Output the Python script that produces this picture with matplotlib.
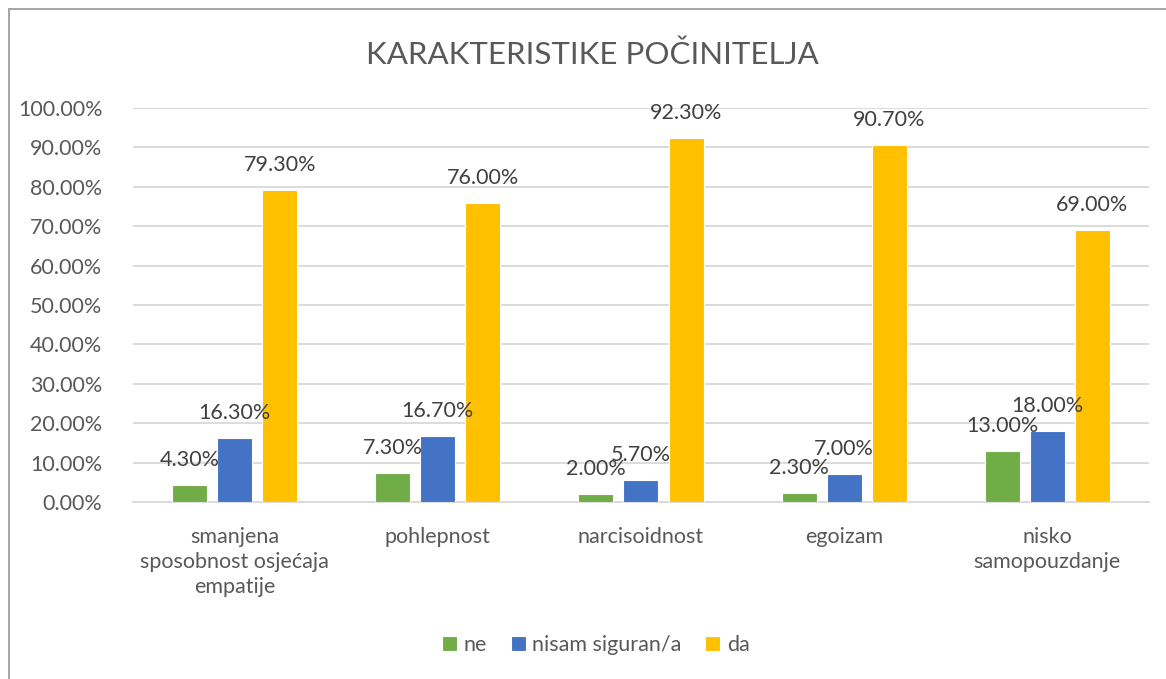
import matplotlib.pyplot as plt
from matplotlib.patches import Rectangle
import numpy as np

# Podaci s grafa
kategorije = ["smanjena\nsposobnost osjećaja\nempatije", "pohlepnost",
              "narcisoidnost", "egoizam", "nisko\nsamopouzdanje"]
serije = ["ne", "nisam siguran/a", "da"]
ne = [4.3, 7.3, 2.0, 2.3, 13.0]
nisam_siguran = [16.3, 16.7, 5.7, 7.0, 18.0]
da = [79.3, 76.0, 92.3, 90.7, 69.0]
yticks = [0, 10, 20, 30, 40, 50, 60, 70, 80, 90, 100]
naslov = "KARAKTERISTIKE POČINITELJA"

boje = ["#70AD47", "#4472C4", "#FFC000"]
plt.rcParams['font.family'] = ['Lato', 'DejaVu Sans']

fig = plt.figure(figsize=(11.66, 6.79), dpi=100)
ax = fig.add_axes([0.114, 0.2607, 0.8714, 0.5802])

# okvir oko cijelog grafa (desni i donji rub izvan slike)
fig.patches.append(Rectangle((9 / 1166, -0.1), 1.2, 1.1 - 9 / 679,
                             transform=fig.transFigure, fill=False,
                             edgecolor="#9e9e9e", linewidth=1.3))

x = np.arange(len(kategorije))
sirina = 0.172
razmak = 0.222
for i, (vals, naziv) in enumerate(zip([ne, nisam_siguran, da], serije)):
    pos = x + (i - 1) * razmak
    bars = ax.bar(pos, vals, width=sirina, color=boje[i], edgecolor="white",
                  linewidth=0.8, label=naziv, zorder=3)
    for b, v in zip(bars, vals):
        ax.annotate(f"{v:.2f}%", (b.get_x() + b.get_width() / 2, v),
                    xytext=(0, 25), textcoords="offset pixels",
                    ha="center", va="center", fontsize=15.5, color="#404040",
                    zorder=4)

ax.set_xlim(-0.5, len(kategorije) - 0.5)
ax.set_ylim(0, 100)
ax.set_yticks(yticks)
ax.set_yticklabels([f"{t:.2f}%" for t in yticks])
ax.set_xticks(x)
ax.set_xticklabels(kategorije, linespacing=1.3)
ax.tick_params(axis="both", length=0, labelsize=15.5, colors="#595959")
ax.tick_params(axis="x", pad=18)
ax.tick_params(axis="y", pad=22)
ax.grid(axis="y", color="#d9d9d9", linewidth=1.3, zorder=0)
for s in ["top", "right", "left"]:
    ax.spines[s].set_visible(False)
ax.spines["bottom"].set_color("#d9d9d9")
ax.spines["bottom"].set_linewidth(1.3)

fig.text(0.508, 0.919, naslov, ha="center", va="center", fontsize=22.5,
         color="#595959")

fig.legend(loc="center", bbox_to_anchor=(0.511, 0.05), ncol=3, frameon=False,
           fontsize=15.5, handlelength=0.7, handleheight=0.7,
           handletextpad=0.3, columnspacing=1.1, labelcolor="#595959")

fig.savefig("out.png", dpi=100)
